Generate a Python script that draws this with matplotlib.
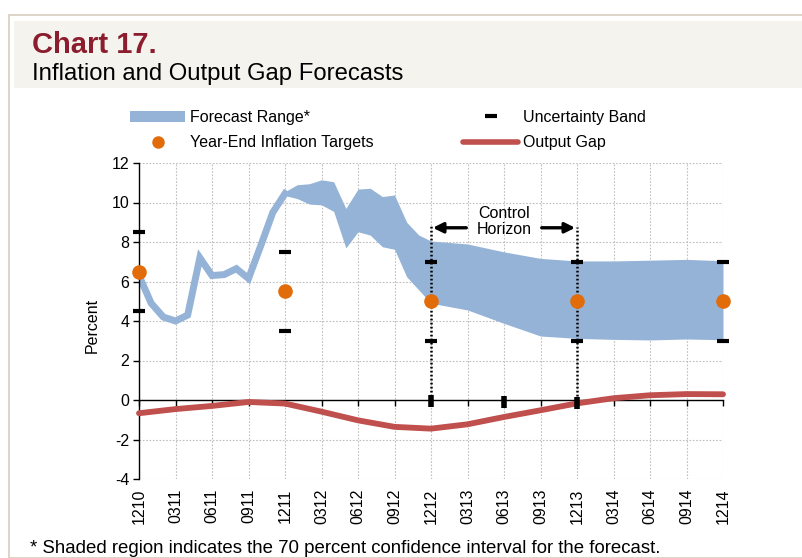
import matplotlib
matplotlib.use("Agg")
import matplotlib.pyplot as plt
from matplotlib.patches import Rectangle, Patch
from matplotlib.lines import Line2D

plt.rcParams['font.family'] = ['Liberation Sans', 'DejaVu Sans']
plt.rcParams['axes.unicode_minus'] = False

# ---------------- data ----------------
tick_months = [0, 3, 6, 9, 12, 15, 18, 21, 24, 27, 30, 33, 36, 39, 42, 45, 48]
tick_labels = ['1210', '0311', '0611', '0911', '1211', '0312', '0612', '0912', '1212',
               '0313', '0613', '0913', '1213', '0314', '0614', '0914', '1214']

hist_months = [0, 1, 2, 3, 4, 5, 6, 7, 8, 9, 10, 11, 12]
hist_infl = [6.3, 4.9, 4.2, 4.0, 4.3, 7.2, 6.3, 6.35, 6.65, 6.15, 7.8, 9.5, 10.45]

band_months = [12, 13, 14, 15, 16, 17, 18, 19, 20, 21, 22, 23, 24, 27, 30, 33, 36, 39, 42, 45, 48]
band_upper = [10.55, 10.9, 10.95, 11.15, 11.05, 9.7, 10.68, 10.72, 10.3, 10.38, 9.0, 8.35, 8.05,
              7.9, 7.5, 7.17, 7.04, 7.04, 7.08, 7.12, 7.05]
band_lower = [10.35, 10.2, 9.92, 9.88, 9.55, 7.7, 8.52, 8.35, 7.76, 7.63, 6.24, 5.57, 4.9,
              4.56, 3.88, 3.24, 3.12, 3.07, 3.04, 3.09, 3.05]

gap_months = [0, 3, 6, 9, 12, 15, 18, 21, 24, 27, 30, 33, 36, 39, 42, 45, 48]
output_gap = [-0.67, -0.46, -0.3, -0.1, -0.18, -0.59, -1.03, -1.36, -1.45, -1.23, -0.86,
              -0.52, -0.17, 0.09, 0.24, 0.3, 0.29]

target_months = [0, 12, 24, 36, 48]
targets = [6.5, 5.5, 5.0, 5.0, 5.0]
unc_upper = [8.5, 7.5, 7.0, 7.0, 7.0]
unc_lower = [4.5, 3.5, 3.0, 3.0, 3.0]

gap_band_months = [24, 30, 36]
gap_band_vals = [-0.03, -0.11, -0.15]

horizon_months = [24, 36]
horizon_tops = [8.85, 8.75]

# ---------------- colours ----------------
BLUE = '#95B3D7'
ORANGE = '#E36C0A'
RED = '#C0504D'
GRID = '#BFBFBF'
FS = 11.5

W, H = 802, 558
fig = plt.figure(figsize=(W / 100, H / 100), dpi=100)
fig.patch.set_facecolor('white')

# frame and title band
fig.add_artist(Rectangle((8.5 / W, 0), 1, 1 - 14.7 / H, transform=fig.transFigure,
                         facecolor='white', edgecolor='#D5CDBD', lw=1.2, zorder=0))
fig.add_artist(Rectangle((14 / W, 1 - 88 / H), 1, 67 / H, transform=fig.transFigure,
                         facecolor='#F4F3EE', edgecolor='none', zorder=1))
fig.text(32 / W, 1 - 53 / H, 'Chart 17.', fontsize=21, fontweight='bold', color='#8C1D2E',
         ha='left', va='baseline')
fig.text(32 / W, 1 - 80 / H, 'Inflation and Output Gap Forecasts', fontsize=17.2,
         color='black', ha='left', va='baseline')
fig.text(30 / W, 1 - 553 / H,
         '* Shaded region indicates the 70 percent confidence interval for the forecast.',
         fontsize=13.4, ha='left', va='baseline')

ax = fig.add_axes([139 / W, 1 - 479 / H, 584 / W, 316 / H])
ax.set_xlim(0, 48)
ax.set_ylim(-4, 12)
ax.set_facecolor('white')

# grid
for m in tick_months:
    ax.axvline(m, color=GRID, lw=0.8, ls=(0, (1.5, 1.5)), zorder=0)
for v in range(-4, 13, 2):
    ax.axhline(v, color=GRID, lw=0.8, ls=(0, (1.5, 1.5)), zorder=0)

# inflation history and forecast range
ax.plot(hist_months, hist_infl, color=BLUE, lw=5, solid_joinstyle='miter', zorder=2)
ax.fill_between(band_months, band_lower, band_upper, color=BLUE, lw=0, zorder=2)

# output gap
ax.plot(gap_months, output_gap, color=RED, lw=4.2, solid_capstyle='round', zorder=4,
        clip_on=False)

# control horizon dotted lines
for m, top in zip(horizon_months, horizon_tops):
    ax.plot([m, m], [0, top], color='black', lw=1.8, ls=(0, (0.7, 0.9)), zorder=3)

# uncertainty bands
ax.plot(target_months, unc_upper, ls='none', marker='_', ms=8, mew=3, color='black', zorder=5,
        clip_on=False)
ax.plot(target_months, unc_lower, ls='none', marker='_', ms=8, mew=3, color='black', zorder=5,
        clip_on=False)
ax.plot(gap_band_months, gap_band_vals, ls='none', marker='|', ms=9, mew=4, color='black',
        zorder=5, clip_on=False)

# targets
ax.plot(target_months, targets, ls='none', marker='o', ms=9.5, color=ORANGE, mec=ORANGE,
        zorder=6, clip_on=False)

# control horizon arrows and text
ax.annotate('', xy=(24.15, 8.72), xytext=(26.9, 8.72),
            arrowprops=dict(arrowstyle='-|>', color='black', lw=2.4, mutation_scale=15,
                            shrinkA=0, shrinkB=0))
ax.annotate('', xy=(35.85, 8.72), xytext=(33.1, 8.72),
            arrowprops=dict(arrowstyle='-|>', color='black', lw=2.4, mutation_scale=15,
                            shrinkA=0, shrinkB=0))
ax.text(30, 9.05, 'Control\nHorizon', ha='center', va='center', fontsize=FS, linespacing=1.05)

# axes styling
for s in ['top', 'right']:
    ax.spines[s].set_visible(False)
ax.spines['left'].set_color('black')
ax.spines['left'].set_linewidth(1)
ax.spines['bottom'].set_position(('data', 0))
ax.spines['bottom'].set_color('black')
ax.spines['bottom'].set_linewidth(1)
ax.spines['bottom'].set_zorder(3)
ax.set_yticks(range(-4, 13, 2))
ax.tick_params(axis='y', direction='out', length=4, width=1, labelsize=FS, pad=3)
ax.set_xticks(tick_months)
ax.tick_params(axis='x', direction='out', length=4, width=1, labelbottom=False)

sec = ax.secondary_xaxis(0.0)
sec.set_xticks(tick_months)
sec.set_xticklabels(tick_labels, rotation=90, fontsize=FS)
sec.tick_params(length=0, pad=7)
sec.spines['bottom'].set_visible(False)

fig.text(92 / W, 1 - 325 / H, 'Percent', rotation=90, fontsize=FS, ha='center', va='center')

# legend
handles = [Patch(facecolor=BLUE, edgecolor='none'),
           Line2D([], [], ls='none', marker='o', ms=8, color=ORANGE),
           Line2D([], [], ls='none', marker='_', ms=8, mew=3, color='black'),
           Line2D([], [], color=RED, lw=4, solid_capstyle='round')]
labels = ['Forecast Range*', 'Year-End Inflation Targets', 'Uncertainty Band', 'Output Gap']
fig.legend(handles, labels, ncol=2, loc='upper left', bbox_to_anchor=(130 / W, 1 - 110 / H),
           frameon=False, fontsize=FS, handlelength=3.45, handleheight=0.7, handletextpad=0.3,
           columnspacing=5.6, labelspacing=0.65, borderpad=0, borderaxespad=0)

fig.savefig('out.png', dpi=100)
